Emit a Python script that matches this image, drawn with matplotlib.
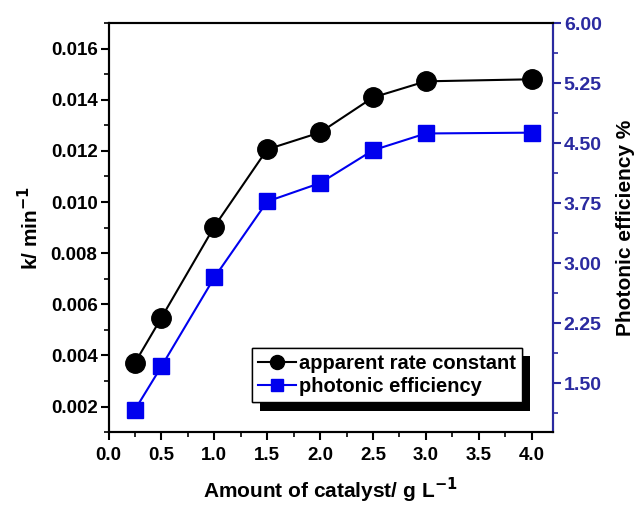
import matplotlib

matplotlib.use("Agg")
import matplotlib.pyplot as plt
import matplotlib.patheffects as pe
from matplotlib.ticker import MultipleLocator, FormatStrFormatter

plt.rcParams["font.family"] = ["Liberation Sans", "DejaVu Sans"]

# --- datos ---
catalizador = [0.25, 0.5, 1.0, 1.5, 2.0, 2.5, 3.0, 4.0]          # g L^-1
k_aparente = [0.00372, 0.00548, 0.00904, 0.01206, 0.01272, 0.01409, 0.01472, 0.0148]  # min^-1
eficiencia = [1.17, 1.71, 2.82, 3.77, 4.00, 4.41, 4.62, 4.63]     # %

AZUL_EJE = "#2a2aa0"
AZUL = "#0000ee"

fig = plt.figure(figsize=(6.39, 5.12), dpi=100)
ax = fig.add_axes([0.170, 0.156, 0.695, 0.799])
ax2 = ax.twinx()

l1, = ax.plot(catalizador, k_aparente, "-o", color="black", lw=1.5, ms=14,
              label="apparent rate constant")
l2, = ax2.plot(catalizador, eficiencia, "-s", color=AZUL, mec=AZUL, lw=1.5, ms=12,
               label="photonic efficiency")

ax.set_xlim(0, 4.2)
ax.set_ylim(0.001, 0.017)
ax2.set_ylim(0.8875, 6.0)

ax.xaxis.set_major_locator(MultipleLocator(0.5))
ax.xaxis.set_minor_locator(MultipleLocator(0.25))
ax.xaxis.set_major_formatter(FormatStrFormatter("%.1f"))
ax.yaxis.set_minor_locator(MultipleLocator(0.001))
ax.yaxis.set_major_formatter(FormatStrFormatter("%.3f"))
ax.set_yticks([0.002, 0.004, 0.006, 0.008, 0.010, 0.012, 0.014, 0.016])

ax2.set_yticks([1.50, 2.25, 3.00, 3.75, 4.50, 5.25, 6.00])
ax2.yaxis.set_minor_locator(MultipleLocator(0.375))
ax2.yaxis.set_major_formatter(FormatStrFormatter("%.2f"))

for a in (ax, ax2):
    a.tick_params(which="major", direction="out", length=6, width=1.5, labelsize=13.5,
                  pad=2)
    a.tick_params(which="minor", direction="out", length=3.5, width=1.2)
    for lab in a.get_xticklabels() + a.get_yticklabels():
        lab.set_fontweight("bold")
ax.tick_params(axis="y", which="both", right=False)
ax2.tick_params(axis="y", which="both", colors=AZUL_EJE)
ax2.tick_params(axis="y", labelsize=14)
ax.tick_params(axis="x", which="both", top=False)
ax.tick_params(axis="x", pad=5)

for s in ax.spines.values():
    s.set_linewidth(1.5)
for s in ax2.spines.values():
    s.set_linewidth(1.5)
ax2.spines["right"].set_color(AZUL_EJE)

ax.set_xlabel("Amount of catalyst/ g L$^{\\mathbf{-1}}$", fontsize=15, fontweight="bold",
              labelpad=8)
ax.set_ylabel("k/ min$^{\\mathbf{-1}}$", fontsize=15, fontweight="bold", labelpad=6)
ax2.set_ylabel("Photonic efficiency %", fontsize=15, fontweight="bold", labelpad=10)

leg = ax2.legend(handles=[l1, l2], loc="lower left", bbox_to_anchor=(0.322, 0.073),
                 borderaxespad=0, prop={"size": 14.5, "weight": "bold"},
                 handlelength=1.9, handletextpad=0.15, markerscale=0.72,
                 fancybox=False, edgecolor="black", framealpha=1,
                 borderpad=0.3, labelspacing=0.2)
leg.get_frame().set_linewidth(1.0)
leg.get_frame().set_path_effects([
    pe.withSimplePatchShadow(offset=(6, -6), shadow_rgbFace="black", alpha=1),
    pe.Normal(),
])

fig.savefig("out.png", dpi=100)
